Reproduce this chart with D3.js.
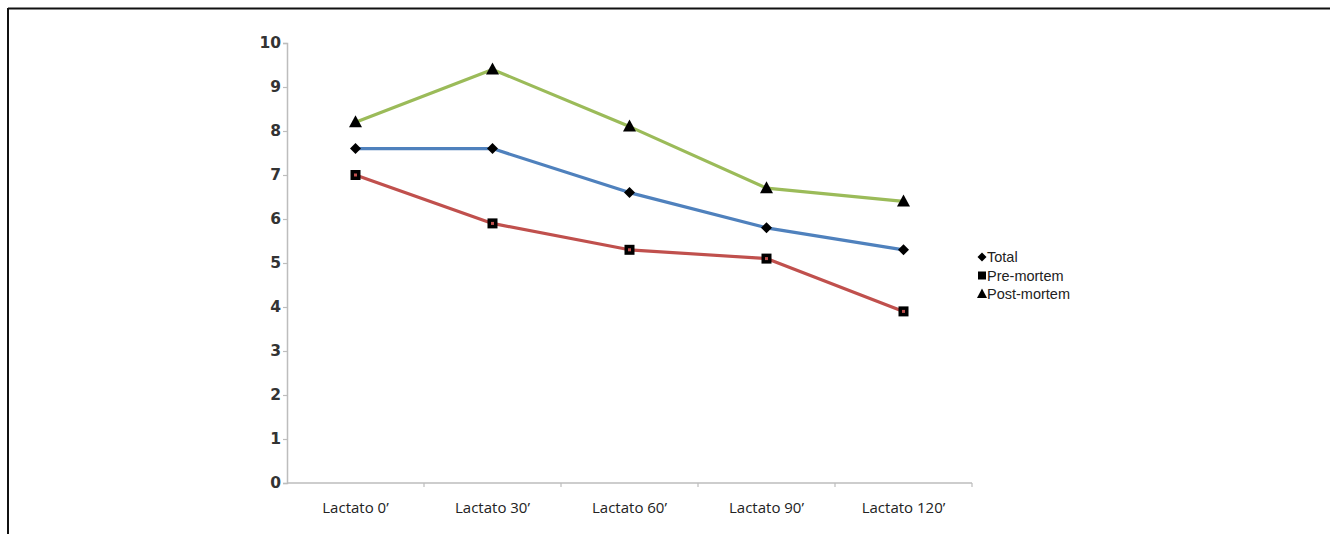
<!DOCTYPE html>
<html>
<head>
<meta charset="utf-8">
<script src="https://cdn.jsdelivr.net/npm/d3@7"></script>
<style>
  html, body { margin: 0; padding: 0; background: #fff; }
  svg { display: block; }
</style>
</head>
<body>
<svg id="chart" width="1330" height="534"></svg>
<script>
// Lactate readings at each time point
const categories = ["Lactato 0’", "Lactato 30’", "Lactato 60’", "Lactato 90’", "Lactato 120’"];
const totalValues = [7.6, 7.6, 6.6, 5.8, 5.3];
const preMortemValues = [7.0, 5.9, 5.3, 5.1, 3.9];
const postMortemValues = [8.2, 9.4, 8.1, 6.7, 6.4];
const yTicks = [0, 1, 2, 3, 4, 5, 6, 7, 8, 9, 10];
const seriesNames = ["Total", "Pre-mortem", "Post-mortem"];

const series = [
  { name: seriesNames[0], values: totalValues, color: "#4f81bd", marker: "diamond" },
  { name: seriesNames[1], values: preMortemValues, color: "#c0504d", marker: "square" },
  { name: seriesNames[2], values: postMortemValues, color: "#9bbb59", marker: "triangle" }
];

const svg = d3.select("#chart");

// Outer frame: left and top edges
svg.append("line").attr("x1", 8).attr("y1", 8).attr("x2", 8).attr("y2", 534)
  .attr("stroke", "#111").attr("stroke-width", 2);
svg.append("line").attr("x1", 8).attr("y1", 8.5).attr("x2", 1330).attr("y2", 8.5)
  .attr("stroke", "#111").attr("stroke-width", 2);

const plot = { left: 287, right: 972, top: 43, bottom: 483 };

const x = d3.scaleBand().domain(categories).range([plot.left, plot.right]);
const y = d3.scaleLinear().domain([0, 10]).range([plot.bottom, plot.top]);

const axisColor = "#bdbdbd";

// Y axis
const yAxis = svg.append("g").attr("transform", `translate(${plot.left},0)`)
  .call(d3.axisLeft(y).tickValues(yTicks).tickSize(4).tickPadding(2).tickFormat(d3.format("d")));
yAxis.select(".domain").attr("stroke", axisColor).attr("stroke-width", 1.5);
yAxis.selectAll(".tick line").attr("stroke", axisColor).attr("stroke-width", 1.2);
yAxis.selectAll(".tick text")
  .attr("fill", "#333")
  .style("font-family", "'DejaVu Sans', Verdana, sans-serif")
  .style("font-weight", "bold")
  .style("font-size", "15.5px");

// X axis with ticks at category boundaries
const xAxisG = svg.append("g").attr("transform", `translate(0,${plot.bottom})`);
xAxisG.append("line").attr("x1", plot.left).attr("x2", plot.right)
  .attr("y1", 0).attr("y2", 0).attr("stroke", axisColor).attr("stroke-width", 1.5);
const boundaries = categories.map(c => x(c)).concat([x(categories[categories.length - 1]) + x.bandwidth()]);
xAxisG.selectAll(".xtick").data(boundaries.slice(1)).join("line")
  .attr("x1", d => d).attr("x2", d => d).attr("y1", 0).attr("y2", 4)
  .attr("stroke", axisColor).attr("stroke-width", 1.2);
xAxisG.selectAll(".xlabel").data(categories).join("text")
  .attr("x", d => x(d) + x.bandwidth() / 2)
  .attr("y", 30)
  .attr("text-anchor", "middle")
  .attr("fill", "#222")
  .style("font-family", "'Open Sans', 'Liberation Sans', sans-serif")
  .style("font-size", "15px")
  .text(d => d);

const cx = i => x(categories[i]) + x.bandwidth() / 2;

const line = d3.line().x((d, i) => cx(i)).y(d => y(d));

// Lines
series.forEach(s => {
  svg.append("path").datum(s.values)
    .attr("fill", "none")
    .attr("stroke", s.color)
    .attr("stroke-width", 3.2)
    .attr("stroke-linejoin", "round")
    .attr("d", line);
});

function drawMarker(g, type, px, py, fill) {
  if (type === "diamond") {
    g.append("path").attr("d", `M${px},${py - 5.5}L${px + 5.5},${py}L${px},${py + 5.5}L${px - 5.5},${py}Z`)
      .attr("fill", "#000");
  } else if (type === "square") {
    g.append("rect").attr("x", px - 5).attr("y", py - 5).attr("width", 10).attr("height", 10)
      .attr("fill", "#000");
    g.append("rect").attr("x", px - 1.5).attr("y", py - 1.5).attr("width", 3).attr("height", 3)
      .attr("fill", fill);
  } else {
    g.append("path").attr("d", `M${px},${py - 7}L${px + 6.5},${py + 5}L${px - 6.5},${py + 5}Z`)
      .attr("fill", "#000");
  }
}

// Markers
series.forEach(s => {
  const g = svg.append("g");
  s.values.forEach((v, i) => drawMarker(g, s.marker, cx(i), y(v), s.color));
});

// Legend
const legend = svg.append("g").attr("transform", "translate(977,257)");
series.forEach((s, i) => {
  const ly = i * 18.5;
  const g = legend.append("g");
  if (s.marker === "diamond") {
    g.append("path").attr("d", `M5,${ly - 4.5}L9.5,${ly}L5,${ly + 4.5}L0.5,${ly}Z`).attr("fill", "#000");
  } else if (s.marker === "square") {
    g.append("rect").attr("x", 1).attr("y", ly - 4).attr("width", 8).attr("height", 8).attr("fill", "#000");
  } else {
    g.append("path").attr("d", `M5,${ly - 5.5}L10,${ly + 4}L0,${ly + 4}Z`).attr("fill", "#000");
  }
  g.append("text").attr("x", 10).attr("y", ly + 5)
    .attr("fill", "#222")
    .style("font-family", "'Liberation Sans', Arial, sans-serif")
    .style("font-size", "14.5px")
    .text(s.name);
});
</script>
</body>
</html>
